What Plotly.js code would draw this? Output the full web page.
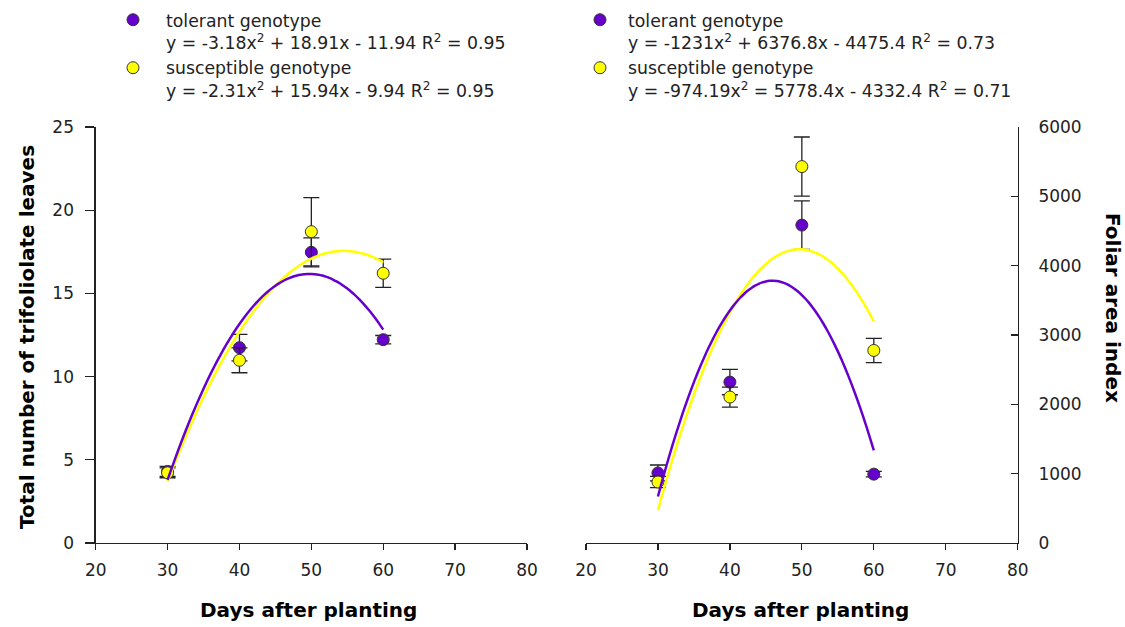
<!DOCTYPE html>
<html>
<head>
<meta charset="utf-8">
<script src="https://cdn.plot.ly/plotly-3.0.1.min.js"></script>
<style>
  html, body { margin: 0; padding: 0; background: #fff; }
  #chart { width: 1125px; height: 627px; }
</style>
</head>
<body>
<div id="chart"></div>
<script>
// Sampling dates (days after planting)
const days = [30, 40, 50, 60];

// Total number of trifoliolate leaves (mean and standard error)
const leavesTolerant = [4.3, 11.74, 17.47, 12.22];
const leavesTolerantErr = [0.3, 0.8, 0.87, 0.25];
const leavesSusceptible = [4.22, 10.98, 18.71, 16.21];
const leavesSusceptibleErr = [0.3, 0.75, 2.05, 0.85];

// Foliar area index (mean and standard error)
const areaTolerant = [1010, 2321, 4585, 993];
const areaTolerantErr = [115, 183, 350, 40];
const areaSusceptible = [880, 2105, 5429, 2777];
const areaSusceptibleErr = [80, 144, 427, 175];

// Quadratic fits [a, b, c] for y = a*x^2 + b*x + c, x = sampling number (1..4)
const leavesTolerantFit = [-3.18, 18.91, -11.94];
const leavesSusceptibleFit = [-2.31, 15.94, -9.94];
const areaTolerantFit = [-1231, 6376.8, -4475.4];
const areaSusceptibleFit = [-974.19, 5778.4, -4332.4];

// Legend labels
const tolerantName = 'tolerant genotype';
const susceptibleName = 'susceptible genotype';
const leavesTolerantEq = 'y = -3.18x<sup>2</sup> + 18.91x - 11.94 R<sup>2</sup> = 0.95';
const leavesSusceptibleEq = 'y = -2.31x<sup>2</sup> + 15.94x - 9.94 R<sup>2</sup> = 0.95';
const areaTolerantEq = 'y = -1231x<sup>2</sup> + 6376.8x - 4475.4 R<sup>2</sup> = 0.73';
const areaSusceptibleEq = 'y = -974.19x<sup>2</sup> = 5778.4x - 4332.4 R<sup>2</sup> = 0.71';

// Axis titles
const xTitle = 'Days after planting';
const leavesTitle = 'Total number of trifoliolate leaves';
const areaTitle = 'Foliar area index';

const PURPLE = '#6600cc';
const YELLOW = '#ffff00';
const INK = '#222222';
const FONT = 'DejaVu Sans, Arial, sans-serif';

// Evaluate a fitted parabola over the sampled period
function fitCurve(coef) {
  const xs = [], ys = [];
  for (let d = days[0]; d <= days[days.length - 1] + 1e-9; d += 0.5) {
    const s = (d - 20) / 10;
    xs.push(d);
    ys.push(coef[0] * s * s + coef[1] * s + coef[2]);
  }
  return { x: xs, y: ys };
}

function points(y, err, color, name, xa, ya, legend) {
  return {
    type: 'scatter', mode: 'markers', x: days, y: y,
    xaxis: xa, yaxis: ya, name: name, legend: legend,
    marker: { size: 12, color: color, line: { color: '#333', width: 1 } },
    error_y: { type: 'data', array: err, visible: true, color: INK, thickness: 1.3, width: 8 },
    cliponaxis: false
  };
}

function curve(coef, color, xa, ya) {
  const c = fitCurve(coef);
  return {
    type: 'scatter', mode: 'lines', x: c.x, y: c.y, xaxis: xa, yaxis: ya,
    line: { color: color, width: 2.5, shape: 'spline' }, showlegend: false, hoverinfo: 'skip'
  };
}

const data = [
  points(leavesTolerant, leavesTolerantErr, PURPLE, tolerantName + '<br>' + leavesTolerantEq, 'x', 'y', 'legend'),
  points(leavesSusceptible, leavesSusceptibleErr, YELLOW, susceptibleName + '<br>' + leavesSusceptibleEq, 'x', 'y', 'legend'),
  curve(leavesSusceptibleFit, YELLOW, 'x', 'y'),
  curve(leavesTolerantFit, PURPLE, 'x', 'y'),
  points(areaTolerant, areaTolerantErr, PURPLE, tolerantName + '<br>' + areaTolerantEq, 'x2', 'y2', 'legend2'),
  points(areaSusceptible, areaSusceptibleErr, YELLOW, susceptibleName + '<br>' + areaSusceptibleEq, 'x2', 'y2', 'legend2'),
  curve(areaSusceptibleFit, YELLOW, 'x2', 'y2'),
  curve(areaTolerantFit, PURPLE, 'x2', 'y2')
];

const W = 1125, H = 627;
const yDomain = [1 - 543 / H, 1 - 127 / H];

const baseX = {
  range: [20, 80], dtick: 10, tick0: 20, showgrid: false, zeroline: false,
  showline: true, linecolor: INK, linewidth: 1.3, mirror: false,
  ticks: 'outside', ticklen: 6, tickwidth: 1.3, tickcolor: INK, ticklabelstandoff: 5,
  tickfont: { family: FONT, size: 17, color: INK }, fixedrange: true
};

const legendBase = {
  font: { family: FONT, size: 17.3, color: INK },
  bgcolor: 'rgba(0,0,0,0)', borderwidth: 0,
  xanchor: 'left', yanchor: 'top', valign: 'top',
  tracegroupgap: 0, itemclick: false, itemdoubleclick: false
};

const layout = {
  width: W, height: H,
  margin: { l: 0, r: 0, t: 0, b: 0 },
  paper_bgcolor: '#fff', plot_bgcolor: '#fff',
  font: { family: FONT, color: INK },
  xaxis: Object.assign({}, baseX, { domain: [95.7 / W, 527 / W], anchor: 'y' }),
  yaxis: {
    domain: yDomain, anchor: 'x', range: [0, 25], dtick: 5, tick0: 0,
    showgrid: false, zeroline: false, showline: true, linecolor: INK, linewidth: 1.3,
    ticks: 'outside', ticklen: 9, tickwidth: 1.3, tickcolor: INK, ticklabelstandoff: 8,
    tickfont: { family: FONT, size: 17, color: INK }, fixedrange: true
  },
  xaxis2: Object.assign({}, baseX, { domain: [586 / W, 1017.7 / W], anchor: 'y2' }),
  yaxis2: {
    domain: yDomain, anchor: 'x2', side: 'right', range: [0, 6000], dtick: 1000, tick0: 0,
    showgrid: false, zeroline: false, showline: true, linecolor: INK, linewidth: 1.3,
    ticks: 'inside', ticklen: 7, tickwidth: 1.3, tickcolor: INK, ticklabelstandoff: 16,
    tickfont: { family: FONT, size: 17, color: INK }, fixedrange: true
  },
  showlegend: true,
  legend: Object.assign({}, legendBase, { x: 100 / W, y: 1 - 2 / H, itemwidth: 56 }),
  legend2: Object.assign({}, legendBase, { x: 572 / W, y: 1 - 2 / H, itemwidth: 46 }),
  annotations: [
    { text: '<b>' + xTitle + '</b>', xref: 'paper', yref: 'paper', x: 308 / W, y: 1 - 610 / H,
      showarrow: false, xanchor: 'center', yanchor: 'middle', font: { family: FONT, size: 20, color: '#000' } },
    { text: '<b>' + xTitle + '</b>', xref: 'paper', yref: 'paper', x: 800 / W, y: 1 - 610 / H,
      showarrow: false, xanchor: 'center', yanchor: 'middle', font: { family: FONT, size: 20, color: '#000' } },
    { text: '<b>' + leavesTitle + '</b>', xref: 'paper', yref: 'paper', x: 27 / W, y: 1 - 337 / H,
      textangle: -90, showarrow: false, xanchor: 'center', yanchor: 'middle', font: { family: FONT, size: 20, color: '#000' } },
    { text: '<b>' + areaTitle + '</b>', xref: 'paper', yref: 'paper', x: 1113 / W, y: 1 - 308 / H,
      textangle: 90, showarrow: false, xanchor: 'center', yanchor: 'middle', font: { family: FONT, size: 20, color: '#000' } }
  ]
};

Plotly.newPlot('chart', data, layout, { staticPlot: true, displayModeBar: false });
</script>
</body>
</html>
